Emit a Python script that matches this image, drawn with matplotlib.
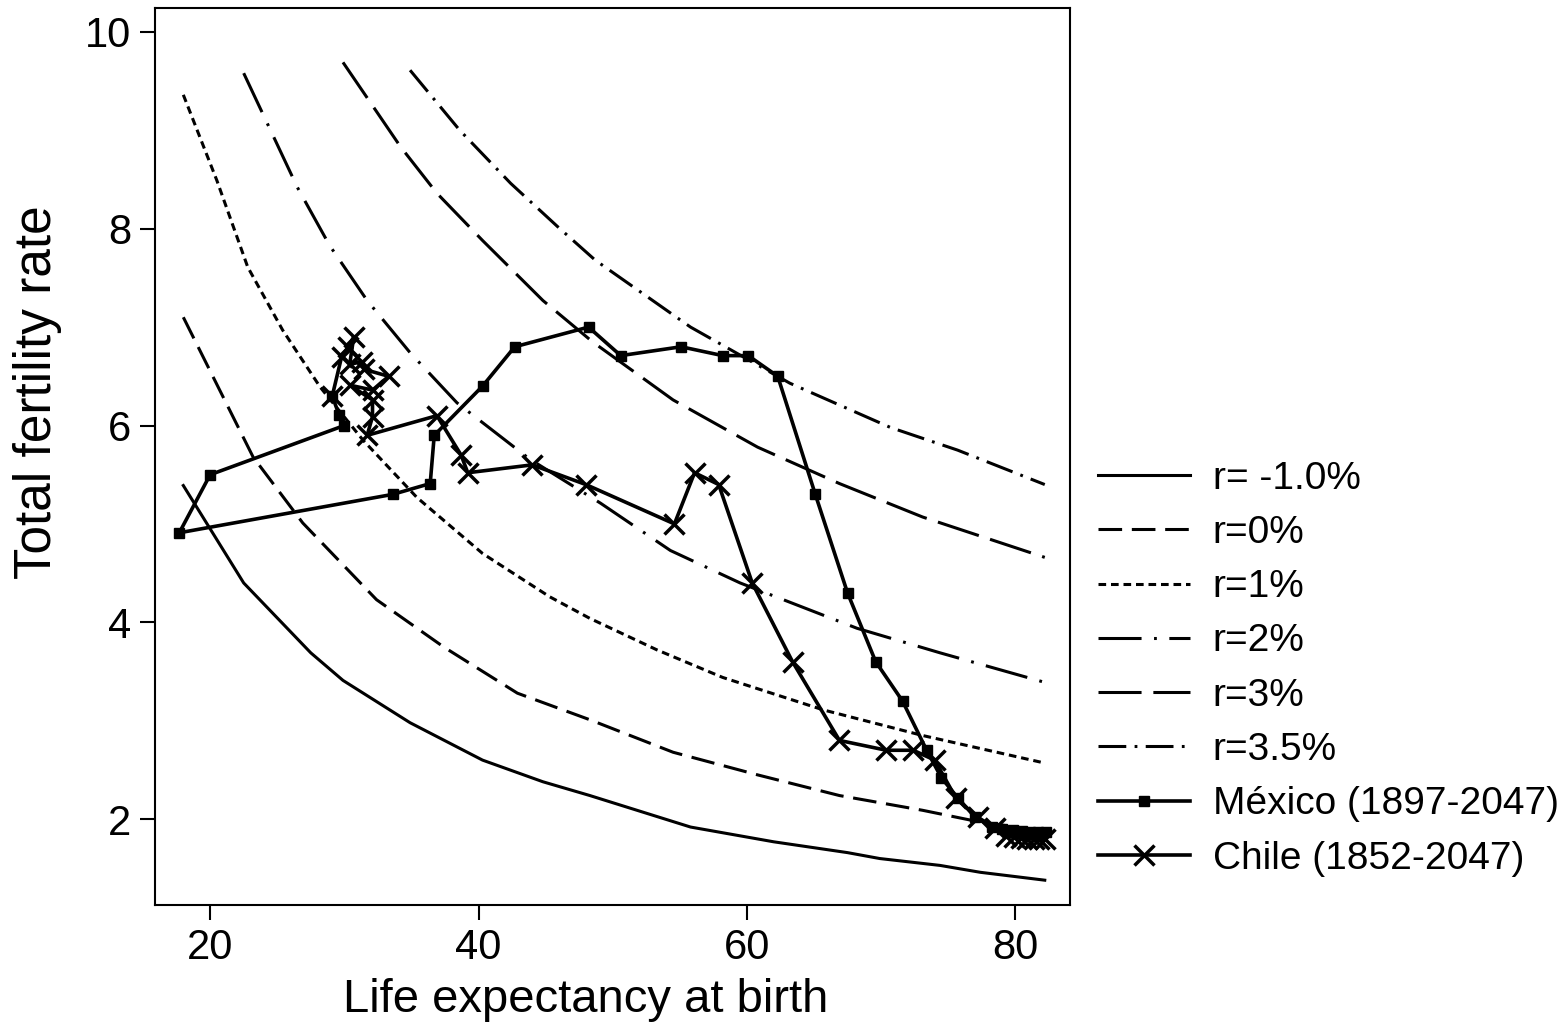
import numpy as np
import matplotlib
matplotlib.use("Agg")
import matplotlib.pyplot as plt

plt.rcParams['font.family'] = ['Liberation Sans', 'DejaVu Sans']
plt.rcParams['lines.scale_dashes'] = False

# reference curves: life expectancy (e0) vs TFR for constant growth rates r
e0_m1 = [18.0, 22.5, 27.5, 29.9, 34.9, 40.3, 44.8, 48.3, 55.8, 62.0, 67.5, 69.9, 74.4, 77.4, 82.2]
tfr_m1 = [5.39, 4.40, 3.69, 3.41, 2.98, 2.60, 2.38, 2.24, 1.92, 1.77, 1.66, 1.60, 1.53, 1.46, 1.38]

e0_0 = [18.0, 23.2, 26.9, 32.4, 37.4, 42.9, 48.3, 54.5, 60.8, 66.9, 73.1, 77.4, 82.2]
tfr_0 = [7.10, 5.68, 5.01, 4.23, 3.75, 3.28, 3.01, 2.68, 2.45, 2.24, 2.09, 1.97, 1.88]

e0_1 = [18.0, 20.5, 22.8, 25.4, 28.2, 31.4, 35.4, 40.3, 45.3, 48.3, 53.3, 58.2, 65.7, 73.1, 82.2]
tfr_1 = [9.36, 8.49, 7.61, 6.97, 6.39, 5.85, 5.27, 4.70, 4.26, 4.04, 3.72, 3.44, 3.11, 2.85, 2.57]

e0_2 = [22.5, 26.5, 28.9, 31.7, 34.9, 38.4, 43.8, 49.1, 54.3, 59.5, 68.2, 74.4, 82.2]
tfr_2 = [9.58, 8.42, 7.83, 7.27, 6.74, 6.23, 5.66, 5.21, 4.73, 4.40, 3.94, 3.69, 3.39]

e0_3 = [29.9, 34.2, 36.9, 40.3, 44.8, 48.5, 54.5, 60.8, 66.9, 73.1, 82.2]
tfr_3 = [9.69, 8.83, 8.36, 7.88, 7.27, 6.85, 6.26, 5.78, 5.41, 5.07, 4.66]

e0_35 = [34.9, 38.6, 42.4, 45.9, 48.7, 55.8, 63.2, 70.7, 75.7, 82.2]
tfr_35 = [9.61, 9.00, 8.46, 8.02, 7.68, 7.00, 6.43, 5.98, 5.75, 5.40]

# Mexico 1897-2047
mex_e0 = [29.1, 29.6, 30.0, 20.0, 17.7, 33.6, 36.4, 36.7, 40.3, 42.7, 48.2, 50.6, 55.1,
          58.2, 60.1, 62.3, 65.1, 67.5, 69.6, 71.6, 73.4, 74.5, 75.7, 77.0, 78.3,
          79.0, 79.8, 80.5, 81.1, 81.7, 82.3]
mex_tfr = [6.30, 6.11, 6.00, 5.50, 4.91, 5.30, 5.41, 5.90, 6.40, 6.80, 7.00, 6.71, 6.80,
           6.71, 6.71, 6.50, 5.30, 4.30, 3.60, 3.20, 2.70, 2.42, 2.22, 2.02, 1.92,
           1.90, 1.89, 1.88, 1.87, 1.87, 1.87]

# Chile 1852-2047
chl_e0 = [29.1, 29.8, 30.3, 30.7, 30.4, 31.3, 31.5, 33.3, 32.1, 30.4, 32.1, 32.1, 31.7,
          36.9, 38.7, 39.2, 44.0, 48.0, 54.6, 56.1, 57.9, 60.4, 63.4, 66.9, 70.4,
          72.4, 74.0, 75.6, 77.2, 78.5, 79.3, 79.9, 80.4, 80.9, 81.4, 81.8, 82.2]
chl_tfr = [6.30, 6.70, 6.80, 6.90, 6.62, 6.65, 6.57, 6.50, 6.36, 6.41, 6.26, 6.09, 5.90,
           6.10, 5.70, 5.52, 5.60, 5.40, 5.00, 5.52, 5.40, 4.40, 3.60, 2.80, 2.70,
           2.70, 2.60, 2.21, 2.02, 1.91, 1.83, 1.82, 1.81, 1.80, 1.80, 1.80, 1.80]

fig = plt.figure(figsize=(15.67, 10.27), dpi=100)
ax = fig.add_axes([0.099, 0.119, 0.584, 0.873])

lw = 2.2
ax.plot(e0_m1, tfr_m1, color='black', lw=lw, ls='-', label='r= -1.0%')
ax.plot(e0_0, tfr_0, color='black', lw=lw, ls=(0, (17, 7)), label='r=0%')
ax.plot(e0_1, tfr_1, color='black', lw=lw, ls=(0, (5.5, 3.5)), label='r=1%')
ax.plot(e0_2, tfr_2, color='black', lw=lw, ls=(0, (31, 9, 2, 9)), label='r=2%')
ax.plot(e0_3, tfr_3, color='black', lw=lw, ls=(0, (31, 8.5)), label='r=3%')
ax.plot(e0_35, tfr_35, color='black', lw=lw, ls=(0, (20, 6, 2, 6)), label='r=3.5%')

ax.plot(mex_e0, mex_tfr, color='black', lw=2.6, marker='s', markersize=7,
        label='México (1897-2047)')
ax.plot(chl_e0, chl_tfr, color='black', lw=2.6, marker='x', markersize=15,
        markeredgewidth=2.5, label='Chile (1852-2047)')

ax.set_xlim(15.9, 84.1)
ax.set_ylim(1.13, 10.24)
ax.set_xticks([20, 40, 60, 80])
ax.set_yticks([2, 4, 6, 8, 10])
ax.tick_params(direction='out', length=11, width=1.5, labelsize=30, pad=6)
for s in ax.spines.values():
    s.set_linewidth(1.5)

ax.set_xlabel('Life expectancy at birth', fontsize=34)
ax.set_ylabel('Total fertility rate', fontsize=37)
ax.xaxis.set_label_coords(0.47, -0.082)
ax.yaxis.set_label_coords(-0.102, 0.572)

fig.legend(loc='center left', bbox_to_anchor=(0.7007, 0.349), frameon=False,
           fontsize=28, handlelength=2.36, handletextpad=0.59, labelspacing=0.47,
           borderpad=0, borderaxespad=0)

fig.savefig('out.png', dpi=100)
